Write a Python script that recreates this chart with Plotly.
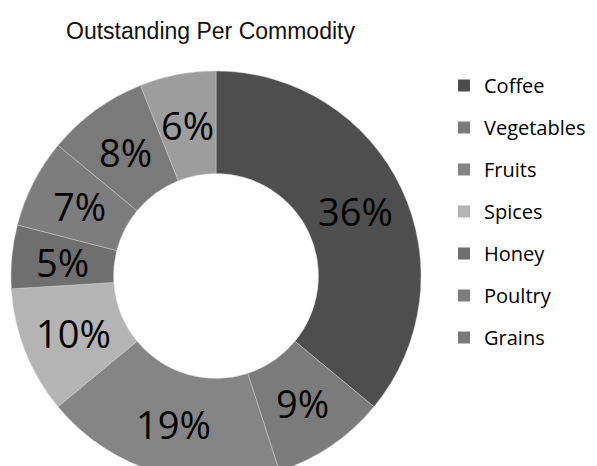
import math
import plotly.graph_objects as go

# Outstanding amounts per commodity (share of total, %)
commodities = ["Coffee", "Vegetables", "Fruits", "Spices", "Honey", "Poultry", "Grains", "Other"]
shares = [36, 9, 19, 10, 5, 7, 8, 6]
colors = ["#4e4e4e", "#7b7b7b", "#858585", "#b4b4b4", "#6f6f6f", "#7d7d7d", "#7a7a7a", "#9d9d9d"]

legend_items = commodities[:7]

W, H = 597, 490
cx, cy, r = 216, 276, 205  # donut centre / outer radius in px (from top-left)
hole = 0.5

fig = go.Figure()

# one small legend-only pie per commodity, tucked beneath the Coffee slice
for i, name in enumerate(legend_items):
    fig.add_trace(go.Pie(
        labels=[name], values=[1], sort=False,
        marker=dict(colors=[colors[i]], line=dict(width=0)),
        textinfo="none", hoverinfo="skip",
        legendgroup=name, showlegend=True,
        domain=dict(x=[0.6, 0.601], y=[0.6, 0.601]),
    ))

fig.add_trace(go.Pie(
    labels=commodities, values=shares, sort=False, direction="clockwise",
    rotation=0, hole=hole,
    marker=dict(colors=colors, line=dict(color="#c8c8c8", width=0.5)),
    textinfo="none",
    showlegend=False,
    domain=dict(x=[(cx - r) / W, (cx + r) / W],
                y=[(H - cy - r) / H, (H - cy + r) / H]),
))

# percentage labels centred in the ring, on each slice's bisector
total = sum(shares)
r_mid = r * (1 + hole) / 2
acc = 0
for v in shares:
    theta = math.radians((acc + v / 2) / total * 360)
    acc += v
    px = cx + r_mid * math.sin(theta)
    py = cy - r_mid * math.cos(theta)
    fig.add_annotation(
        x=px / W, y=1 - py / H, xref="paper", yref="paper",
        text=f"{round(v / total * 100)}%", showarrow=False,
        xanchor="center", yanchor="middle",
        font=dict(family="Open Sans", size=38, color="#000000"),
    )

fig.update_layout(
    width=W, height=H,
    margin=dict(l=0, r=0, t=0, b=0),
    paper_bgcolor="white", plot_bgcolor="white",
    title=dict(text="Outstanding Per Commodity", x=210.5 / W, xanchor="center",
               xref="paper", y=1 - 31 / H, yref="container", yanchor="middle",
               font=dict(family="Liberation Sans", size=23, color="#111111")),
    legend=dict(x=444 / W, xanchor="left", y=1 - 66 / H, yanchor="top",
                font=dict(family="Open Sans", size=20, color="#000000"),
                tracegroupgap=13, traceorder="grouped"),
)

fig.write_html("out.html")
